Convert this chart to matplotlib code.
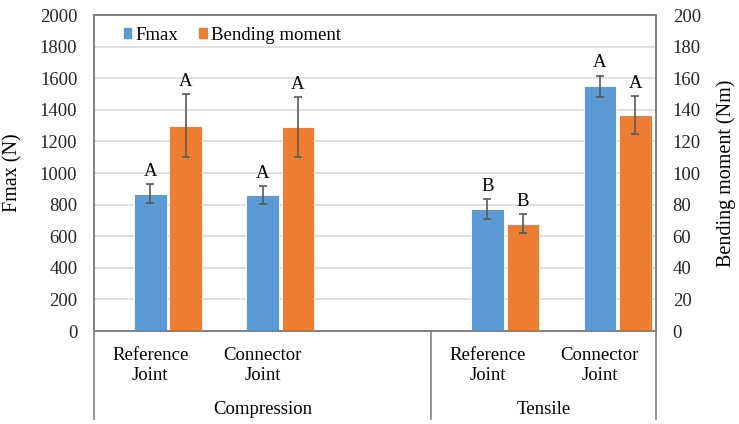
import matplotlib
matplotlib.use("Agg")
import matplotlib.pyplot as plt
from matplotlib.patches import Patch
import numpy as np

# chart data
groups = ["Compression", "Tensile"]
joints = ["Reference\nJoint", "Connector\nJoint"]
fmax = [868, 861, 772, 1550]
fmax_err = [60, 58, 63, 67]
fmax_letters = ["A", "A", "B", "A"]
bending = [130, 129, 68, 136.5]
bending_err = [20, 19, 6, 12]
bending_letters = ["A", "A", "B", "A"]

BLUE = "#5b9bd5"
ORANGE = "#ed7d31"
GRID = "#d9d9d9"
AXIS = "#808080"
ERR = "#595959"
FS = 13.5

plt.rcParams["font.family"] = ["Liberation Serif", "DejaVu Serif"]
plt.rcParams["font.size"] = FS

# Excel layout: compression group has an empty third slot
group_slots = [3, 2]
slots = []
start = 0
for n in group_slots:
    slots.extend(range(start, start + len(joints)))
    start += n
x = np.array(slots, dtype=float)
n_slots = sum(group_slots)

fig = plt.figure(figsize=(7.39, 4.24), dpi=100)
ax = fig.add_axes([0.1272, 0.2193, 0.7605, 0.7453])
ax2 = ax.twinx()

w = 0.29
off = 0.315
ax.bar(x, fmax, width=w, color=BLUE, edgecolor="white", linewidth=0.6, zorder=2)
ax.errorbar(x, fmax, yerr=fmax_err, fmt="none", ecolor=ERR, elinewidth=1.2,
            capsize=3, capthick=1.2, zorder=3)
ax2.bar(x + off, bending, width=w, color=ORANGE, edgecolor="white", linewidth=0.6, zorder=2)
ax2.errorbar(x + off, bending, yerr=bending_err, fmt="none", ecolor=ERR, elinewidth=1.2,
             capsize=3, capthick=1.2, zorder=3)

for xi, v, e, t in zip(x, fmax, fmax_err, fmax_letters):
    ax.annotate(t, (xi, v + e), xytext=(0, 3), textcoords="offset points",
                ha="center", va="bottom", fontsize=FS)
for xi, v, e, t in zip(x + off, bending, bending_err, bending_letters):
    ax2.annotate(t, (xi, v + e), xytext=(0, 3), textcoords="offset points",
                 ha="center", va="bottom", fontsize=FS)

ax.set_xlim(-0.5, n_slots - 0.5)
ax.set_ylim(0, 2000)
ax2.set_ylim(0, 200)
ax.set_yticks(np.arange(0, 2001, 200))
ax2.set_yticks(np.arange(0, 201, 20))
ax.yaxis.grid(True, color=GRID, linewidth=1.2, zorder=0)
ax.set_axisbelow(True)
ax.tick_params(axis="y", length=0, pad=12, labelsize=FS, colors="#262626")
ax2.tick_params(axis="y", length=0, pad=12, labelsize=FS, colors="#262626")
ax.set_xticks([])

for a in (ax, ax2):
    for s in a.spines.values():
        s.set_color(AXIS)
        s.set_linewidth(1.2)

ax.set_ylabel("Fmax (N)", fontsize=14.5)
ax.yaxis.set_label_coords(-0.128, 0.5)
ax2.set_ylabel("Bending moment (Nm)", fontsize=14.5)
ax2.yaxis.set_label_coords(1.108, 0.5)

# multi-level category axis
tr = ax.get_xaxis_transform()
for i, xi in enumerate(x):
    ax.text(xi, -0.05, joints[i % len(joints)], transform=tr,
            ha="center", va="top", fontsize=FS, linespacing=1.25)
edges = [-0.5]
for n in group_slots:
    edges.append(edges[-1] + n)
for xe in edges:
    ax.plot([xe, xe], [0, -0.278], transform=tr, color=AXIS, linewidth=1.2, clip_on=False)
for g, a0, a1 in zip(groups, edges[:-1], edges[1:]):
    ax.text((a0 + a1) / 2, -0.248, g, transform=tr, ha="center", va="center", fontsize=FS)

handles = [Patch(color=BLUE), Patch(color=ORANGE)]
fig.legend(handles, ["Fmax", "Bending moment"], loc="center left",
           bbox_to_anchor=(0.155, 0.917), ncol=2, frameon=False, borderpad=0,
           handlelength=0.4, handleheight=0.4, handletextpad=0.2,
           columnspacing=1.15, fontsize=FS)

fig.savefig("out.png", dpi=100)
